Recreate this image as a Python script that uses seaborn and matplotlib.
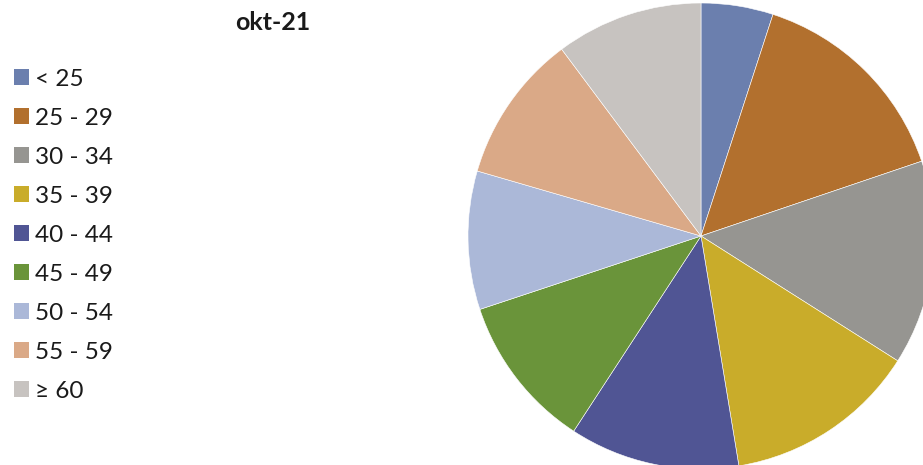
import numpy as np
import pandas as pd
from matplotlib import pyplot as plt
import seaborn as sns

# age groups and their share (%) for okt-21
age_groups = ['< 25', '25 - 29', '30 - 34', '35 - 39', '40 - 44',
              '45 - 49', '50 - 54', '55 - 59', '≥ 60']
shares = [5.0, 14.8, 14.2, 13.4, 11.8, 10.7, 9.6, 10.3, 10.2]
colors = ['#6B7FAE', '#B2702E', '#969591', '#C9AC2A', '#505594',
          '#6A943A', '#ABB8D8', '#DAA987', '#C7C3C0']
title = 'okt-21'

df = pd.DataFrame({'group': age_groups, 'share': shares})

sns.set_theme()
sns.set_style("white")
plt.rcParams['font.family'] = ['Lato', 'DejaVu Sans']

W, H = 923, 465
fig = plt.figure(figsize=(W / 100, H / 100), dpi=100)

# pie centre at (701, 236) px, radius 233 px
cx, cy, r = 701, 236, 233
ax = fig.add_axes([(cx - r) / W, (H - cy - r) / H, 2 * r / W, 2 * r / H])
wedges, _ = ax.pie(df['share'], colors=colors, startangle=90, counterclock=False,
                   radius=1, wedgeprops=dict(linewidth=0.4, edgecolor='white'))
ax.set_xlim(-1, 1)
ax.set_ylim(-1, 1)
ax.set_aspect('equal')
ax.axis('off')

fig.text(273 / W, 1 - 23 / H, title, ha='center', va='center',
         fontsize=18, fontweight='bold', color='#1a1a1a')

leg = fig.legend(wedges, df['group'], loc='upper left',
                 bbox_to_anchor=(4 / W, 1 - 59 / H), frameon=False,
                 fontsize=17.5, handlelength=0.62, handleheight=0.62,
                 handletextpad=0.25, labelspacing=0.74, borderaxespad=0)
for t in leg.get_texts():
    t.set_color('#1a1a1a')
for h in leg.legend_handles:
    h.set_linewidth(0)

fig.savefig('out.png', dpi=100)
